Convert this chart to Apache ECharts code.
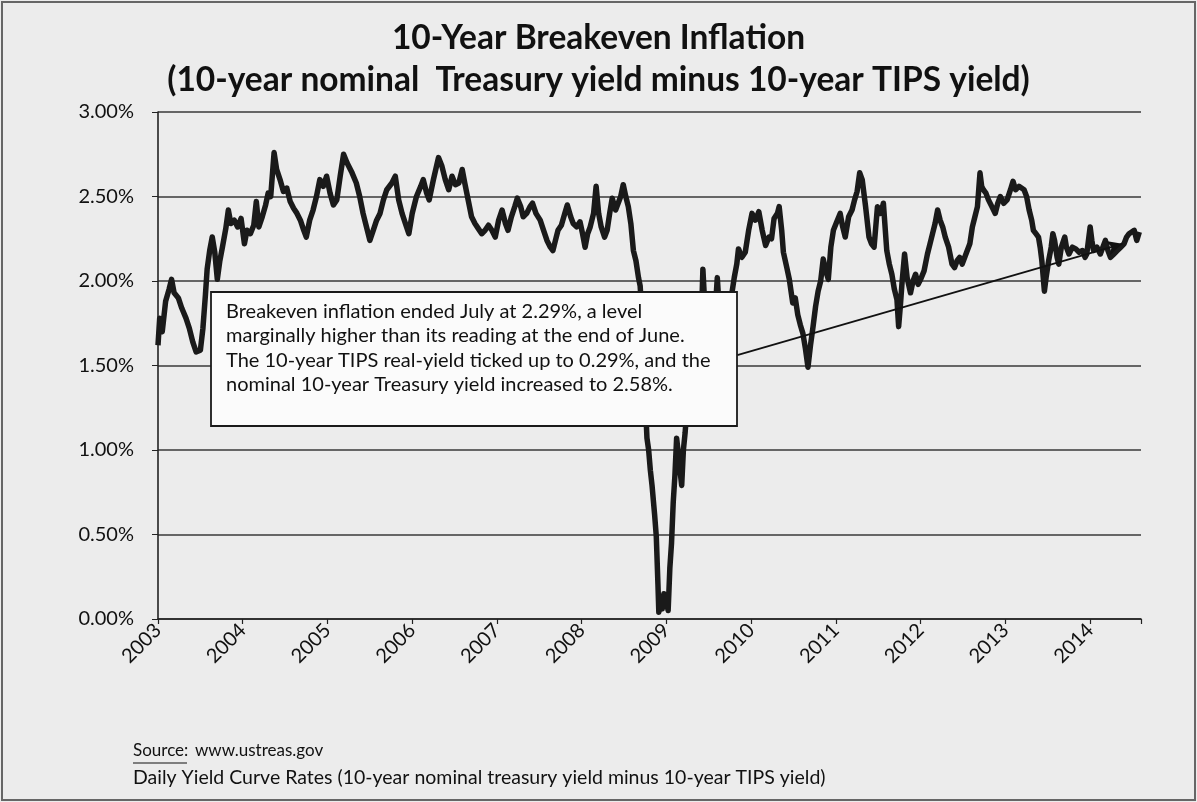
<!DOCTYPE html>
<html>
<head>
<meta charset="utf-8">
<script src="https://cdn.jsdelivr.net/npm/echarts@6/dist/echarts.min.js"></script>
<style>
html,body{margin:0;padding:0;background:#ededed;}
#chart{width:1197px;height:802px;}
</style>
</head>
<body>
<div id="chart"></div>
<script>
// Decimal year of each reading (x) and 10-year breakeven inflation in % (y)
const years = [
2003.00,2003.02,2003.05,2003.09,2003.13,2003.16,2003.19,2003.24,2003.28,2003.33,2003.37,2003.41,2003.45,2003.50,2003.53,2003.56,2003.58,2003.61,2003.64,2003.67,2003.70,2003.73,2003.76,2003.80,2003.83,2003.86,2003.90,2003.94,2003.98,
2004.02,2004.05,2004.09,2004.13,2004.16,2004.19,2004.23,2004.27,2004.30,2004.33,2004.37,2004.40,2004.44,2004.48,2004.52,2004.56,2004.60,2004.64,2004.68,2004.72,2004.75,2004.79,2004.83,2004.87,2004.91,2004.95,2004.99,
2005.03,2005.07,2005.11,2005.15,2005.19,2005.23,2005.29,2005.34,2005.38,2005.42,2005.46,2005.50,2005.54,2005.58,2005.62,2005.66,2005.70,2005.76,2005.80,2005.84,2005.88,2005.92,2005.96,
2006.00,2006.05,2006.10,2006.13,2006.17,2006.20,2006.25,2006.31,2006.35,2006.39,2006.43,2006.47,2006.51,2006.55,2006.59,2006.62,2006.66,2006.70,2006.74,2006.78,2006.82,2006.86,2006.90,2006.94,2006.98,
2007.02,2007.06,2007.10,2007.13,2007.17,2007.21,2007.24,2007.28,2007.31,2007.35,2007.39,2007.42,2007.46,2007.51,2007.55,2007.59,2007.63,2007.66,2007.69,2007.72,2007.76,2007.80,2007.83,2007.87,2007.90,2007.94,2007.98,
2008.01,2008.04,2008.07,2008.10,2008.14,2008.17,2008.20,2008.23,2008.27,2008.30,2008.33,2008.36,2008.40,2008.43,2008.46,2008.49,2008.52,2008.55,2008.58,2008.61,2008.64,2008.67,2008.69,2008.71,2008.73,2008.75,2008.77,2008.79,2008.81,2008.83,2008.86,2008.88,2008.90,2008.91,2008.93,2008.95,2008.97,
2009.00,2009.02,2009.04,2009.06,2009.08,2009.10,2009.12,2009.14,2009.16,2009.18,2009.20,2009.22,2009.25,2009.29,2009.33,2009.37,2009.40,2009.42,2009.43,2009.45,2009.50,2009.55,2009.58,2009.60,2009.62,2009.67,2009.72,2009.77,2009.80,2009.83,2009.85,2009.89,2009.93,2009.97,
2010.01,2010.05,2010.09,2010.13,2010.17,2010.21,2010.24,2010.27,2010.31,2010.33,2010.36,2010.38,2010.42,2010.45,2010.49,2010.52,2010.55,2010.58,2010.61,2010.64,2010.67,2010.70,2010.73,2010.76,2010.79,2010.82,2010.85,2010.88,2010.91,2010.94,2010.97,
2011.01,2011.05,2011.08,2011.11,2011.15,2011.19,2011.22,2011.25,2011.28,2011.31,2011.35,2011.39,2011.42,2011.45,2011.49,2011.53,2011.56,2011.60,2011.63,2011.66,2011.69,2011.72,2011.74,2011.76,2011.78,2011.81,2011.84,2011.88,2011.91,2011.94,2011.97,
2012.00,2012.04,2012.08,2012.11,2012.14,2012.17,2012.20,2012.23,2012.26,2012.29,2012.33,2012.37,2012.40,2012.43,2012.46,2012.49,2012.52,2012.55,2012.58,2012.61,2012.64,2012.67,2012.70,2012.72,2012.74,2012.77,2012.80,2012.84,2012.88,2012.91,2012.94,2012.98,
2013.02,2013.06,2013.09,2013.12,2013.16,2013.19,2013.22,2013.25,2013.28,2013.31,2013.33,2013.36,2013.39,2013.41,2013.43,2013.46,2013.48,2013.51,2013.54,2013.56,2013.58,2013.61,2013.63,2013.66,2013.70,2013.72,2013.75,2013.79,2013.83,2013.87,2013.91,2013.94,2013.96,
2014.00,2014.02,2014.04,2014.08,2014.12,2014.15,2014.18,2014.21,2014.24,2014.28,2014.32,2014.36,2014.40,2014.43,2014.46,2014.49,2014.52,2014.55,2014.58
];
const breakeven = [
1.62,1.78,1.70,1.88,1.95,2.01,1.93,1.90,1.84,1.78,1.72,1.64,1.58,1.59,1.72,1.92,2.07,2.18,2.26,2.17,2.01,2.12,2.20,2.31,2.42,2.34,2.36,2.32,2.37,
2.22,2.30,2.28,2.33,2.47,2.32,2.38,2.45,2.52,2.50,2.76,2.66,2.60,2.53,2.55,2.47,2.43,2.40,2.36,2.30,2.26,2.36,2.42,2.50,2.60,2.56,2.62,
2.52,2.45,2.48,2.62,2.75,2.70,2.64,2.58,2.50,2.40,2.32,2.24,2.30,2.36,2.40,2.48,2.54,2.58,2.62,2.48,2.40,2.34,2.28,
2.40,2.50,2.56,2.60,2.52,2.48,2.60,2.73,2.68,2.60,2.54,2.62,2.57,2.58,2.66,2.58,2.48,2.38,2.34,2.31,2.28,2.30,2.33,2.30,2.26,
2.36,2.42,2.34,2.30,2.38,2.44,2.49,2.44,2.38,2.40,2.44,2.46,2.40,2.36,2.30,2.24,2.20,2.18,2.24,2.30,2.33,2.40,2.45,2.38,2.34,2.32,2.35,
2.28,2.20,2.28,2.32,2.40,2.56,2.40,2.32,2.26,2.30,2.40,2.49,2.42,2.46,2.50,2.57,2.50,2.44,2.34,2.18,2.12,2.02,1.97,1.80,1.55,1.30,1.07,1.00,0.88,0.79,0.62,0.49,0.20,0.04,0.12,0.06,0.15,
0.10,0.05,0.30,0.45,0.69,0.85,1.07,0.98,0.88,0.79,1.00,1.10,1.30,1.45,1.60,1.72,1.82,1.90,2.07,1.88,1.84,1.90,1.86,2.02,1.86,1.90,1.88,1.92,2.02,2.10,2.19,2.14,2.17,2.30,
2.40,2.36,2.41,2.30,2.21,2.26,2.25,2.37,2.40,2.44,2.30,2.17,2.08,2.01,1.87,1.90,1.80,1.74,1.69,1.60,1.49,1.62,1.73,1.85,1.94,2.00,2.13,2.06,2.01,2.20,2.30,
2.35,2.40,2.32,2.26,2.38,2.42,2.48,2.53,2.64,2.60,2.44,2.26,2.22,2.20,2.44,2.40,2.46,2.18,2.10,2.04,1.95,1.89,1.73,1.85,1.99,2.16,2.02,1.93,2.00,2.04,1.98,
2.01,2.06,2.16,2.22,2.28,2.34,2.42,2.36,2.32,2.26,2.20,2.10,2.08,2.12,2.14,2.10,2.14,2.18,2.22,2.32,2.38,2.44,2.64,2.56,2.54,2.52,2.48,2.44,2.40,2.46,2.50,2.46,
2.48,2.54,2.59,2.54,2.56,2.55,2.54,2.50,2.42,2.36,2.30,2.28,2.26,2.20,2.12,1.94,2.02,2.12,2.20,2.28,2.24,2.14,2.10,2.20,2.26,2.20,2.16,2.20,2.19,2.17,2.18,2.14,2.16,
2.32,2.24,2.18,2.20,2.16,2.20,2.24,2.18,2.14,2.16,2.18,2.20,2.22,2.26,2.28,2.29,2.30,2.24,2.29
];
const titleLines = ['10-Year Breakeven Inflation', '(10-year nominal  Treasury yield minus 10-year TIPS yield)'];
const noteLines = [
  'Breakeven inflation ended July at 2.29%, a level',
  'marginally higher than its reading at the end of June.',
  'The 10-year TIPS real-yield ticked up to 0.29%, and the',
  'nominal 10-year Treasury yield increased to 2.58%.'
];
const arrowFrom = [2009.836, 1.562];
const arrowTo = [2014.38, 2.22];
const sourceUrl = 'www.ustreas.gov';
const sourceNote = 'Daily Yield Curve Rates (10-year nominal treasury yield minus 10-year TIPS yield)';

const FONT = 'Lato, "Open Sans", sans-serif';
const seriesData = years.map((y, i) => [y, breakeven[i]]);

const chart = echarts.init(document.getElementById('chart'), null, {renderer: 'canvas'});
chart.setOption({
  backgroundColor: '#ececec',
  animation: false,
  textStyle: {fontFamily: FONT},
  title: {
    text: titleLines.join('\n'),
    left: 'center',
    top: 12,
    textStyle: {fontFamily: FONT, fontSize: 33.5, fontWeight: 'bold', color: '#111', lineHeight: 42}
  },
  grid: {left: 158, top: 112, width: 983, height: 507, containLabel: false},
  xAxis: {
    type: 'value', min: 2003, max: 2014.6, interval: 1,
    axisLine: {lineStyle: {color: '#222', width: 1.6}},
    axisTick: {show: true, length: 5, lineStyle: {color: '#222', width: 1.2}},
    splitLine: {show: false},
    axisLabel: {
      rotate: 45, margin: 8, fontSize: 20, color: '#111', fontFamily: FONT,
      formatter: v => (Math.abs(v - Math.round(v)) < 1e-6 ? String(Math.round(v)) : '')
    }
  },
  yAxis: {
    type: 'value', min: 0, max: 3, interval: 0.5,
    axisLine: {show: true, lineStyle: {color: '#222', width: 1.6}},
    axisTick: {show: true, length: 6, lineStyle: {color: '#222'}},
    splitLine: {lineStyle: {color: '#3a3a3a', width: 1.6}},
    axisLabel: {fontSize: 20, color: '#111', margin: 24, fontFamily: FONT, formatter: v => v.toFixed(2) + '%'}
  },
  series: [{
    type: 'line',
    data: seriesData,
    showSymbol: false,
    symbol: 'none',
    lineStyle: {color: '#1a1a1a', width: 5.5, join: 'round'},
    z: 3,
    markLine: {
      silent: true,
      symbol: ['none', 'arrow'],
      symbolSize: [11, 15],
      label: {show: false},
      lineStyle: {color: '#111', width: 1.8, type: 'solid'},
      data: [[{coord: arrowFrom}, {coord: arrowTo}]]
    }
  }],
  graphic: [
    {type: 'rect', z: 100, shape: {x: 211, y: 292, width: 526, height: 134},
     style: {fill: '#fbfbfb', stroke: '#1a1a1a', lineWidth: 1.8}},
    {type: 'text', z: 101, left: 226, top: 299,
     style: {text: noteLines.join('\n'), font: '20px ' + FONT, lineHeight: 24.5, fill: '#111'}},
    {type: 'text', z: 101, left: 133, top: 742,
     style: {text: 'Source:', font: '17px ' + FONT, fill: '#111'}},
    {type: 'line', z: 101, shape: {x1: 133, y1: 763, x2: 187, y2: 763}, style: {stroke: '#111', lineWidth: 1.2}},
    {type: 'text', z: 101, left: 195, top: 742,
     style: {text: sourceUrl, font: '17px ' + FONT, fill: '#111'}},
    {type: 'text', z: 101, left: 133, top: 768,
     style: {text: sourceNote, font: '19.5px ' + FONT, fill: '#111'}},
    {type: 'rect', z: 0, shape: {x: 2, y: 2, width: 1193, height: 798},
     style: {fill: 'none', stroke: '#666', lineWidth: 2}}
  ]
});
</script>
</body>
</html>
